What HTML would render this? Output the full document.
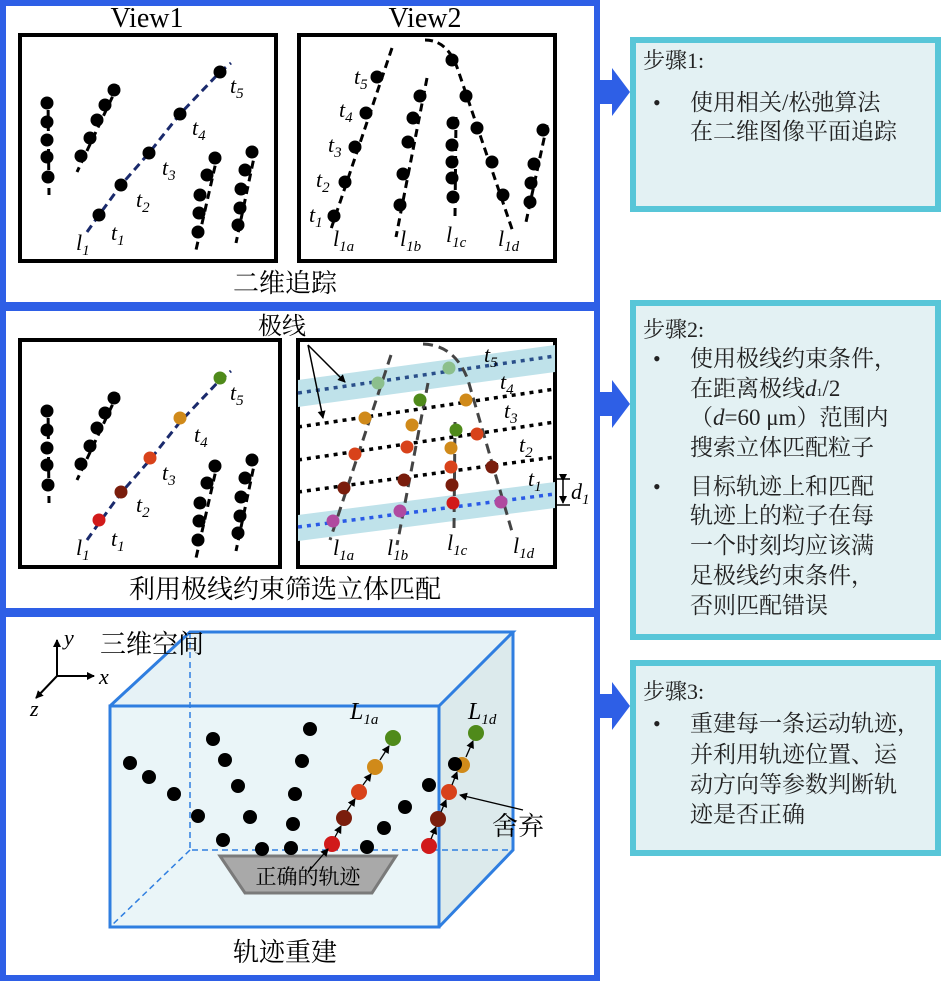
<!DOCTYPE html>
<html><head><meta charset="utf-8"><style>
html,body{margin:0;padding:0;background:#fff;}
svg{display:block;}
.cn{font-family:"Liberation Serif","Noto Serif CJK SC","Noto Sans CJK SC",serif;}
.m{font-family:"Liberation Serif",serif;font-style:italic;}
.s{font-family:"Liberation Serif",serif;font-style:italic;font-size:15px;}
</style></head><body>
<svg width="945" height="982" viewBox="0 0 945 982" xmlns="http://www.w3.org/2000/svg">
<defs>
<marker id="ah" markerWidth="8" markerHeight="8" refX="7" refY="4" orient="auto" markerUnits="userSpaceOnUse"><path d="M0,0 L8,4 L0,8 z" fill="#000"/></marker>
</defs>
<!-- left frames -->
<g fill="none" stroke="#2E5FE6" stroke-width="6">
<rect x="3" y="3" width="594" height="302"/>
<rect x="3" y="308" width="594" height="303"/>
<rect x="3" y="614" width="594" height="364"/>
</g>
<!-- block arrows -->
<g fill="#2E5FE6">
<path d="M598,80 L612,80 L612,68 L630,92 L612,116 L612,104 L598,104 z"/>
<path d="M598,392 L612,392 L612,380 L630,404 L612,428 L612,416 L598,416 z"/>
<path d="M598,694 L612,694 L612,682 L630,706 L612,730 L612,718 L598,718 z"/>
</g>
<!-- step boxes -->
<g fill="#E3F1F3" stroke="#58C6D8" stroke-width="6">
<rect x="633" y="40" width="305" height="169"/>
<rect x="633" y="303" width="305" height="334"/>
<rect x="633" y="663" width="305" height="190"/>
</g>
<g class="cn" font-size="23" fill="#222">
<text x="643" y="68" font-size="22">步骤1:</text>
<text x="653" y="110" font-size="22">•</text>
<text x="690" y="110">使用相关/松弛算法</text>
<text x="690" y="139">在二维图像平面追踪</text>
<text x="643" y="337" font-size="22">步骤2:</text>
<text x="653" y="366" font-size="22">•</text>
<text x="690" y="366">使用极线约束条件，</text>
<text x="690" y="396">在距离极线<tspan class="m">d</tspan><tspan font-size="12">1</tspan>/2</text>
<text x="690" y="425">（<tspan class="m">d</tspan>=60 μm）范围内</text>
<text x="690" y="455">搜索立体匹配粒子</text>
<text x="653" y="494" font-size="22">•</text>
<text x="690" y="494">目标轨迹上和匹配</text>
<text x="690" y="523">轨迹上的粒子在每</text>
<text x="690" y="553">一个时刻均应该满</text>
<text x="690" y="583">足极线约束条件，</text>
<text x="690" y="613">否则匹配错误</text>
<text x="643" y="699" font-size="22">步骤3:</text>
<text x="653" y="731" font-size="22">•</text>
<text x="690" y="731">重建每一条运动轨迹，</text>
<text x="690" y="762">并利用轨迹位置、运</text>
<text x="690" y="792">动方向等参数判断轨</text>
<text x="690" y="822">迹是否正确</text>
</g>

<!-- ===== Panel 1 ===== -->
<text x="147" y="27" font-family="Liberation Serif,serif" font-size="28" text-anchor="middle">View1</text>
<text x="425" y="27" font-family="Liberation Serif,serif" font-size="28" text-anchor="middle">View2</text>
<g fill="none" stroke="#000" stroke-width="4">
<rect x="20" y="35" width="256" height="226"/>
<rect x="299" y="35" width="256" height="226"/>
</g>
<text x="285" y="292" class="cn" font-size="26" text-anchor="middle">二维追踪</text>
<g fill="none" stroke="#000" stroke-width="3" stroke-dasharray="8,5">
<path d="M48,97 L49,195"/><path d="M118,85 L77,172"/>
<path d="M218,153 L196,250"/><path d="M256,148 L236,243"/>
<path d="M392,48 L330,232"/><path d="M427,78 L396,237"/>
<path d="M456,117 L455,217"/>
<path d="M425,40 Q448,40 458,70 L513,232"/>
<path d="M547,125 L526,222"/>
</g>
<path d="M87,232 L99,215 L121,185 L149,153 L180,114 L220,72 L231,63" fill="none" stroke="#1a2a6c" stroke-width="3" stroke-dasharray="8,5"/>
<g fill="#000">
<circle cx="47" cy="103" r="6.5"/><circle cx="47" cy="122" r="6.5"/><circle cx="47" cy="140" r="6.5"/><circle cx="47" cy="157" r="6.5"/><circle cx="48" cy="177" r="6.5"/>
<circle cx="114" cy="90" r="6.5"/><circle cx="105" cy="105" r="6.5"/><circle cx="97" cy="120" r="6.5"/><circle cx="90" cy="138" r="6.5"/><circle cx="81" cy="156" r="6.5"/>
<circle cx="99" cy="215" r="6.5"/><circle cx="121" cy="185" r="6.5"/><circle cx="149" cy="153" r="6.5"/><circle cx="180" cy="114" r="6.5"/><circle cx="220" cy="72" r="6.5"/>
<circle cx="215" cy="158" r="6.5"/><circle cx="207" cy="175" r="6.5"/><circle cx="200" cy="195" r="6.5"/><circle cx="199" cy="213" r="6.5"/><circle cx="198" cy="232" r="6.5"/>
<circle cx="252" cy="152" r="6.5"/><circle cx="245" cy="170" r="6.5"/><circle cx="241" cy="189" r="6.5"/><circle cx="240" cy="208" r="6.5"/><circle cx="238" cy="225" r="6.5"/>
<circle cx="377" cy="77" r="6.5"/><circle cx="366" cy="113" r="6.5"/><circle cx="355" cy="147" r="6.5"/><circle cx="345" cy="182" r="6.5"/><circle cx="334" cy="216" r="6.5"/>
<circle cx="420" cy="96" r="6.5"/><circle cx="413" cy="118" r="6.5"/><circle cx="408" cy="142" r="6.5"/><circle cx="403" cy="174" r="6.5"/><circle cx="400" cy="205" r="6.5"/>
<circle cx="453" cy="123" r="6.5"/><circle cx="452" cy="145" r="6.5"/><circle cx="452" cy="162" r="6.5"/><circle cx="452" cy="178" r="6.5"/><circle cx="453" cy="197" r="6.5"/>
<circle cx="452" cy="60" r="6.5"/><circle cx="466" cy="96" r="6.5"/><circle cx="477" cy="128" r="6.5"/><circle cx="492" cy="162" r="6.5"/><circle cx="503" cy="195" r="6.5"/>
<circle cx="543" cy="130" r="6.5"/><circle cx="534" cy="164" r="6.5"/><circle cx="531" cy="183" r="6.5"/><circle cx="530" cy="202" r="6.5"/>
</g>
<g class="m" font-size="22">
<text x="111" y="240">t<tspan class="s" dy="5">1</tspan></text>
<text x="136" y="207">t<tspan class="s" dy="5">2</tspan></text>
<text x="162" y="175">t<tspan class="s" dy="5">3</tspan></text>
<text x="192" y="135">t<tspan class="s" dy="5">4</tspan></text>
<text x="230" y="93">t<tspan class="s" dy="5">5</tspan></text>
<text x="76" y="250">l<tspan class="s" dy="5">1</tspan></text>
<text x="354" y="84">t<tspan class="s" dy="5">5</tspan></text>
<text x="339" y="117">t<tspan class="s" dy="5">4</tspan></text>
<text x="328" y="152">t<tspan class="s" dy="5">3</tspan></text>
<text x="316" y="187">t<tspan class="s" dy="5">2</tspan></text>
<text x="309" y="222">t<tspan class="s" dy="5">1</tspan></text>
<text x="333" y="246">l<tspan class="s" dy="5">1a</tspan></text>
<text x="400" y="246">l<tspan class="s" dy="5">1b</tspan></text>
<text x="446" y="242">l<tspan class="s" dy="5">1c</tspan></text>
<text x="498" y="246">l<tspan class="s" dy="5">1d</tspan></text>
</g>

<!-- ===== Panel 2 ===== -->
<g fill="none" stroke="#000" stroke-width="4">
<rect x="20" y="340" width="260" height="227"/>
<rect x="298" y="340" width="257" height="227"/>
</g>
<text x="285" y="598" class="cn" font-size="26" text-anchor="middle">利用极线约束筛选立体匹配</text>
<text x="282" y="334" class="cn" font-size="24" text-anchor="middle">极线</text>
<g fill="none" stroke="#000" stroke-width="3" stroke-dasharray="8,5">
<path d="M48,405 L49,503"/><path d="M118,393 L77,480"/>
<path d="M218,461 L196,558"/><path d="M256,456 L236,551"/>
</g>
<path d="M87,540 L99,523 L121,493 L149,461 L180,422 L220,380 L231,371" fill="none" stroke="#1a2a6c" stroke-width="3" stroke-dasharray="8,5"/>
<g fill="#000">
<circle cx="47" cy="411" r="6.5"/><circle cx="47" cy="430" r="6.5"/><circle cx="47" cy="448" r="6.5"/><circle cx="47" cy="465" r="6.5"/><circle cx="48" cy="485" r="6.5"/>
<circle cx="114" cy="398" r="6.5"/><circle cx="105" cy="413" r="6.5"/><circle cx="97" cy="428" r="6.5"/><circle cx="90" cy="446" r="6.5"/><circle cx="81" cy="464" r="6.5"/>
<circle cx="215" cy="466" r="6.5"/><circle cx="207" cy="483" r="6.5"/><circle cx="200" cy="503" r="6.5"/><circle cx="199" cy="521" r="6.5"/><circle cx="198" cy="540" r="6.5"/>
<circle cx="252" cy="460" r="6.5"/><circle cx="245" cy="478" r="6.5"/><circle cx="241" cy="497" r="6.5"/><circle cx="240" cy="516" r="6.5"/><circle cx="238" cy="533" r="6.5"/>
</g>
<circle cx="99" cy="520" r="6.5" fill="#d11a1a"/><circle cx="121" cy="492" r="6.5" fill="#7a1d0c"/><circle cx="150" cy="458" r="6.5" fill="#d8421a"/><circle cx="180" cy="418" r="6.5" fill="#d08a1a"/><circle cx="220" cy="378" r="6.5" fill="#4f8a1a"/>
<g class="m" font-size="22">
<text x="111" y="546">t<tspan class="s" dy="5">1</tspan></text>
<text x="136" y="512">t<tspan class="s" dy="5">2</tspan></text>
<text x="162" y="480">t<tspan class="s" dy="5">3</tspan></text>
<text x="194" y="442">t<tspan class="s" dy="5">4</tspan></text>
<text x="230" y="400">t<tspan class="s" dy="5">5</tspan></text>
<text x="76" y="555">l<tspan class="s" dy="5">1</tspan></text>
</g>
<path d="M298,380 L555,345 L555,372 L298,407 z" fill="#BFE2EA"/>
<path d="M298,515 L555,482 L555,508 L298,541 z" fill="#BFE2EA"/>
<g fill="none" stroke-width="3.5" stroke-dasharray="4,5">
<path d="M298,393 L555,356" stroke="#2a4f8a"/>
<path d="M298,527 L555,494" stroke="#2a5ae6"/>
<path d="M298,427 L555,389" stroke="#000"/>
<path d="M298,460 L555,422" stroke="#000"/>
<path d="M298,492 L555,457" stroke="#000"/>
</g>
<g fill="none" stroke="#444" stroke-width="3" stroke-dasharray="10,6">
<path d="M391,355 L330,540"/><path d="M428,383 L397,545"/><path d="M455,422 L454,528"/>
<path d="M423,344 Q455,345 468,380 L513,535"/>
</g>
<g>
<circle cx="378" cy="383" r="6.5" fill="#8cbf8c"/><circle cx="365" cy="418" r="6.5" fill="#d08a1a"/><circle cx="355" cy="454" r="6.5" fill="#d8421a"/><circle cx="344" cy="488" r="6.5" fill="#7a1d0c"/><circle cx="333" cy="521" r="6.5" fill="#b04aa0"/>
<circle cx="420" cy="400" r="6.5" fill="#4f8a1a"/><circle cx="412" cy="425" r="6.5" fill="#d08a1a"/><circle cx="407" cy="447" r="6.5" fill="#d8421a"/><circle cx="404" cy="480" r="6.5" fill="#7a1d0c"/><circle cx="400" cy="511" r="6.5" fill="#b04aa0"/>
<circle cx="456" cy="430" r="6.5" fill="#4f8a1a"/><circle cx="451" cy="448" r="6.5" fill="#d08a1a"/><circle cx="451" cy="467" r="6.5" fill="#d8421a"/><circle cx="452" cy="485" r="6.5" fill="#7a1d0c"/><circle cx="453" cy="503" r="6.5" fill="#d11a1a"/>
<circle cx="449" cy="368" r="6.5" fill="#8cbf8c"/><circle cx="466" cy="400" r="6.5" fill="#d08a1a"/><circle cx="477" cy="434" r="6.5" fill="#d8421a"/><circle cx="492" cy="467" r="6.5" fill="#7a1d0c"/><circle cx="501" cy="502" r="6.5" fill="#b04aa0"/>
</g>
<g stroke="#000" stroke-width="1.5" fill="none">
<path d="M308,345 L345,382" marker-end="url(#ah)"/>
<path d="M308,345 L323,418" marker-end="url(#ah)"/>
<path d="M556,479 L570,479 M556,505 L570,505"/>
<path d="M563,481 L563,503" marker-end="url(#ah)" marker-start="url(#ah)"/>
</g>
<g class="m" font-size="22">
<text x="484" y="362">t<tspan class="s" dy="5">5</tspan></text>
<text x="500" y="389">t<tspan class="s" dy="5">4</tspan></text>
<text x="504" y="418">t<tspan class="s" dy="5">3</tspan></text>
<text x="519" y="452">t<tspan class="s" dy="5">2</tspan></text>
<text x="528" y="486">t<tspan class="s" dy="5">1</tspan></text>
<text x="571" y="499">d<tspan class="s" dy="5" font-style="normal">1</tspan></text>
<text x="333" y="555">l<tspan class="s" dy="5">1a</tspan></text>
<text x="387" y="555">l<tspan class="s" dy="5">1b</tspan></text>
<text x="447" y="550">l<tspan class="s" dy="5">1c</tspan></text>
<text x="513" y="553">l<tspan class="s" dy="5">1d</tspan></text>
</g>

<!-- ===== Panel 3 ===== -->
<path d="M110,706 L190,632 L513,632 L439,706 z" fill="#E6F2F6"/>
<path d="M439,706 L513,632 L513,850 L439,927 z" fill="#DCEAEC"/>
<rect x="110" y="706" width="329" height="221" fill="#EAF5F8"/>
<g stroke="#2f7ee0" stroke-width="1.5" stroke-dasharray="6,4" fill="none">
<path d="M190,632 L190,850 L513,850"/><path d="M190,850 L110,927"/>
</g>
<g stroke="#2f7ee0" stroke-width="3" fill="none">
<rect x="110" y="706" width="329" height="221"/>
<path d="M110,706 L190,632 L513,632 L439,706 M513,632 L513,850 L439,927"/>
</g>
<g stroke="#000" stroke-width="2" fill="none">
<path d="M57,676 L57,640" marker-end="url(#ah)"/>
<path d="M57,676 L94,676" marker-end="url(#ah)"/>
<path d="M57,676 L36,698" marker-end="url(#ah)"/>
</g>
<text x="64" y="645" class="m" font-size="22">y</text>
<text x="99" y="684" class="m" font-size="22">x</text>
<text x="30" y="716" class="m" font-size="22">z</text>
<text x="100" y="653" class="cn" font-size="26">三维空间</text>
<path d="M220,856 L396,856 L372,893 L245,893 z" fill="#A9A9A9" stroke="#7a7a7a" stroke-width="3"/>
<text x="308" y="884" class="cn" font-size="21" text-anchor="middle">正确的轨迹</text>
<g fill="#000">
<circle cx="130" cy="763" r="7"/><circle cx="149" cy="777" r="7"/><circle cx="174" cy="794" r="7"/><circle cx="198" cy="816" r="7"/><circle cx="223" cy="840" r="7"/><circle cx="262" cy="849" r="7"/><circle cx="291" cy="848" r="7"/>
<circle cx="213" cy="739" r="7"/><circle cx="225" cy="760" r="7"/><circle cx="238" cy="786" r="7"/><circle cx="250" cy="817" r="7"/>
<circle cx="310" cy="729" r="7"/><circle cx="302" cy="761" r="7"/><circle cx="295" cy="794" r="7"/><circle cx="293" cy="824" r="7"/>
<circle cx="367" cy="847" r="7"/><circle cx="384" cy="828" r="7"/><circle cx="405" cy="807" r="7"/><circle cx="429" cy="785" r="7"/>
</g>
<circle cx="462" cy="765" r="8" fill="#d08a1a"/>
<circle cx="455" cy="764" r="7" fill="#000"/>
<g>
<circle cx="332" cy="844" r="8" fill="#d11a1a"/><circle cx="344" cy="818" r="8" fill="#7a1d0c"/><circle cx="359" cy="792" r="8" fill="#d8421a"/><circle cx="375" cy="767" r="8" fill="#d08a1a"/><circle cx="393" cy="738" r="8" fill="#4f8a1a"/>
<circle cx="429" cy="846" r="8" fill="#d11a1a"/><circle cx="438" cy="819" r="8" fill="#7a1d0c"/><circle cx="449" cy="792" r="8" fill="#d8421a"/><circle cx="476" cy="733" r="8" fill="#4f8a1a"/>
</g>
<g stroke="#000" stroke-width="1.3" fill="none">
<path d="M335,837 L341,826" marker-end="url(#ah)"/><path d="M347,811 L355,799" marker-end="url(#ah)"/><path d="M363,785 L371,774" marker-end="url(#ah)"/><path d="M380,760 L389,746" marker-end="url(#ah)"/>
<path d="M431,839 L436,827" marker-end="url(#ah)"/><path d="M441,812 L446,800" marker-end="url(#ah)"/><path d="M452,785 L457,772" marker-end="url(#ah)"/><path d="M466,757 L473,741" marker-end="url(#ah)"/>
<path d="M308,872 L328,849" marker-end="url(#ah)"/>
<path d="M523,810 L460,795" marker-end="url(#ah)"/>
</g>
<text x="350" y="719" class="m" font-size="24">L<tspan class="s" dy="5">1a</tspan></text>
<text x="468" y="719" class="m" font-size="24">L<tspan class="s" dy="5">1d</tspan></text>
<text x="492" y="835" class="cn" font-size="26">舍弃</text>
<text x="285" y="961" class="cn" font-size="26" text-anchor="middle">轨迹重建</text>
</svg>
</body></html>
